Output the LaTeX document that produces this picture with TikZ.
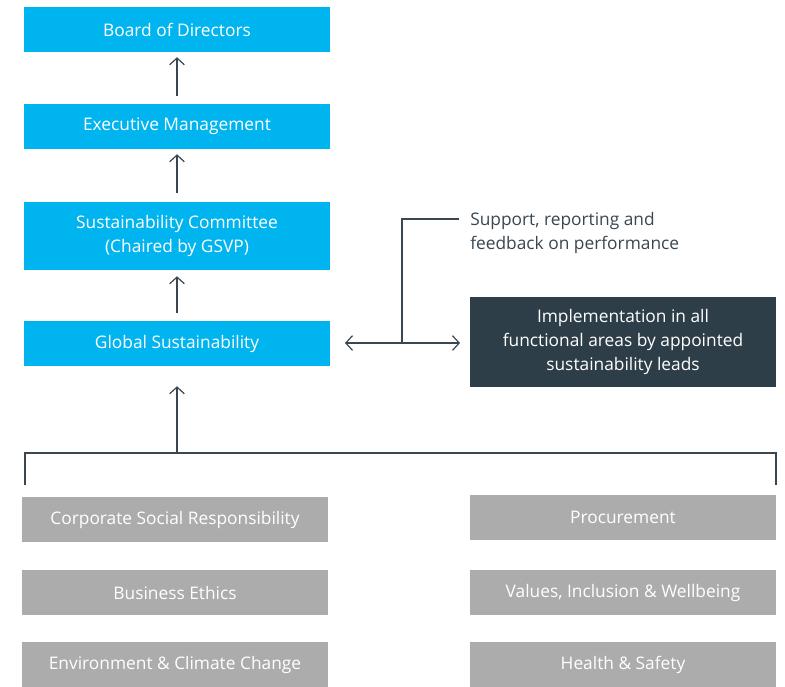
\documentclass[tikz,border=0pt]{standalone}
\usepackage{fontspec}
\setmainfont{Open Sans}
\usetikzlibrary{arrows.meta}
\definecolor{govcyan}{HTML}{00B5EF}
\definecolor{govgray}{HTML}{ABACAB}
\definecolor{govdark}{HTML}{2E3E48}
\definecolor{govline}{HTML}{3A4650}
\tikzset{cy/.style = {fill=govcyan, text=white, minimum width=229.5pt, minimum height=33.75pt, inner sep=0pt, align=center},
           dk/.style = {fill=govdark, text=white, minimum width=229.5pt, minimum height=67.5pt, inner sep=0pt, align=center},
           gr/.style = {fill=govgray, text=white, minimum width=229.5pt, minimum height=33.75pt, inner sep=0pt, align=center},
           ln/.style = {draw=govline, line width=0.9pt},
           tip/.tip = {Straight Barb[length=5pt, width=11pt]},
           ar/.style = {ln, -tip}}

\begin{document}
\begin{tikzpicture}[x=0.75pt, y=-0.75pt, font=\fontsize{13}{18}\selectfont]
    \useasboundingbox (0,0) rectangle (785,686);
    \node[cy] (bod) at (177,29.5) {Board of Directors};
    \node[cy] (exe) at (177,126.5) {Executive Management};
    \node[cy, minimum height=51pt] (com) at (177,236) {Sustainability Committee\\(Chaired by GSVP)};
    \node[cy] (glo) at (177,343.5) {Global Sustainability};
    \node[dk] (imp) at (623,342) {Implementation in all\\functional areas by appointed\\sustainability leads};
    \node[anchor=north west, align=left, text=govline, inner sep=0pt] (sup) at (470,212) {Support, reporting and\\feedback on performance};
    % bottom groups
    \node[gr] (csr) at (175,519.5) {Corporate Social Responsibility};
    \node[gr] (eth) at (175,592.5) {Business Ethics};
    \node[gr] (env) at (175,664.5) {Environment \& Climate Change};
    \node[gr] (pro) at (623,517.5) {Procurement};
    \node[gr] (val) at (623,592.5) {Values, Inclusion \& Wellbeing};
    \node[gr] (hse) at (623,664.5) {Health \& Safety};
    % helper points
    \coordinate (b1) at (177,96);  \coordinate (b2) at (177,193);
    \coordinate (b3) at (177,313);
    \coordinate (bl) at (25,485);  \coordinate (br) at (776,485);
    \coordinate (bm) at (177,453);
    \coordinate (la) at (345,343); \coordinate (ra) at (460,343);
    \coordinate (jn) at (402,343); \coordinate (tp) at (459,219);
    \draw[ar] (b1) -- ([yshift=-3.75pt]bod.south);
    \draw[ar] (b2) -- ([yshift=-3.75pt]exe.south);
    \draw[ar] (b3) -- ([yshift=-4.5pt]com.south);
    \draw[ln] (bl) |- (bm) -| (br);
    \draw[ar] (bm) -- ([yshift=-15pt]glo.south);
    \draw[ln, tip-tip] (la) -- (ra);
    \draw[ln] (jn) |- (tp);
\end{tikzpicture}
\end{document}
